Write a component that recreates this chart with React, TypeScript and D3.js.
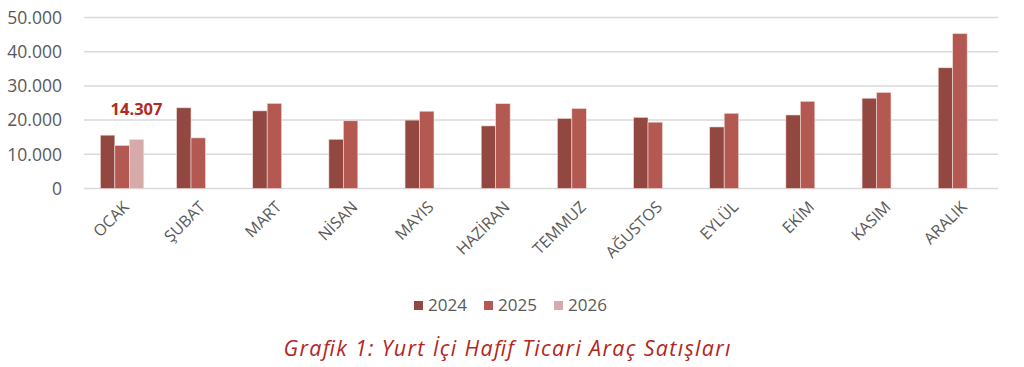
import React from "react";
import * as d3 from "d3";

const months = ["OCAK", "ŞUBAT", "MART", "NİSAN", "MAYIS", "HAZİRAN", "TEMMUZ", "AĞUSTOS", "EYLÜL", "EKİM", "KASIM", "ARALIK"];
const seriesNames = ["2024", "2025", "2026"];
const values2024 = [15600, 23600, 22700, 14400, 20000, 18300, 20500, 20800, 18000, 21500, 26400, 35300];
const values2025 = [12600, 14800, 24900, 19800, 22600, 24800, 23400, 19400, 22000, 25500, 28100, 45300];
const values2026: (number | null)[] = [14307, null, null, null, null, null, null, null, null, null, null, null];
const yTicks = [0, 10000, 20000, 30000, 40000, 50000];
const colors = ["#934741", "#b35952", "#d5aaa8"];
const labelValue = 14307;

const W = 1024;
const H = 367;

const locale = d3.formatLocale({ decimal: ",", thousands: ".", grouping: [3], currency: ["", ""] });
const fmt = locale.format(",d");

export default function App() {
  const series = [values2024, values2025, values2026];
  const x = d3.scaleBand<string>().domain(months).range([84, 998]).paddingInner(0.43).paddingOuter(0.215);
  const xs = d3.scaleBand<string>().domain(seriesNames).range([0, x.bandwidth()]).padding(0);
  const y = d3.scaleLinear().domain([0, 50000]).range([188.5, 17.5]);
  const axisFont = "'Open Sans', 'DejaVu Sans', sans-serif";

  return (
    <svg width={W} height={H} style={{ position: "absolute", left: 0, top: 0, background: "#fff" }}>
      {yTicks.map((t) => (
        <g key={t}>
          <line x1={84} x2={998} y1={y(t)} y2={y(t)} stroke="#d9d9d9" strokeWidth={1.5} />
          <text x={62} y={y(t)} dy="0.36em" textAnchor="end" fontFamily={axisFont} fontSize={17.5} fill="#595959">
            {fmt(t)}
          </text>
        </g>
      ))}
      {months.map((m, i) => (
        <g key={m} transform={`translate(${x(m)},0)`}>
          {series.map((s, si) => {
            const v = s[i];
            if (v == null) return null;
            return (
              <rect
                key={si}
                x={xs(seriesNames[si])}
                y={y(v)}
                width={xs.bandwidth()}
                height={y(0) - y(v)}
                fill={colors[si]}
                stroke="#f3dedd"
                strokeWidth={0.6}
              />
            );
          })}
        </g>
      ))}
      <text
        x={(x(months[0]) as number) + (xs(seriesNames[2]) as number) + xs.bandwidth() / 2}
        y={y(labelValue) - 25}
        textAnchor="middle"
        fontFamily={axisFont}
        fontWeight={700}
        fontSize={16.5}
        fill="#b02a22"
      >
        {fmt(labelValue)}
      </text>
      {months.map((m) => {
        const cx = (x(m) as number) + x.bandwidth() / 2 + 4;
        const cy = 204;
        return (
          <text
            key={m}
            transform={`translate(${cx},${cy}) rotate(-45)`}
            textAnchor="end"
            dy="0.35em"
            fontFamily={axisFont}
            fontSize={16}
            fill="#595959"
          >
            {m}
          </text>
        );
      })}
      {seriesNames.map((n, i) => (
        <g key={n} transform={`translate(${414 + i * 70},0)`}>
          <rect x={0} y={301} width={9} height={9} fill={colors[i]} />
          <text x={14} y={311} fontFamily={axisFont} fontSize={17} fill="#595959">
            {n}
          </text>
        </g>
      ))}
      <text
        x={507}
        y={356}
        textAnchor="middle"
        fontFamily="'Open Sans', sans-serif"
        fontStyle="italic"
        fontWeight={500}
        fontSize={21.5}
        textLength={447}
        lengthAdjust="spacing"
        fill="#b3261e"
      >
        Grafik 1: Yurt İçi Hafif Ticari Araç Satışları
      </text>
    </svg>
  );
}
